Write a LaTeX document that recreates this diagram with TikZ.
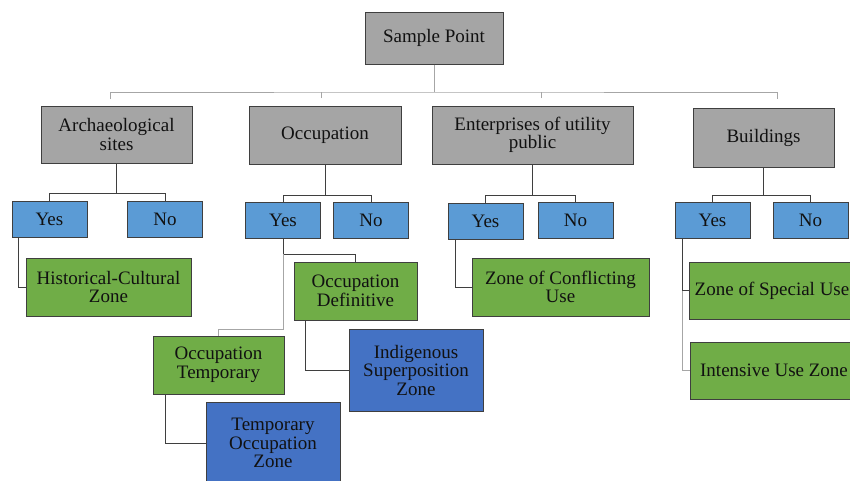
\documentclass[tikz,border=0pt]{standalone}
\usepackage{fontspec}
\setmainfont{Liberation Serif}
\usetikzlibrary{calc}
\definecolor{bd}{HTML}{3F3F3F}
\definecolor{grayf}{HTML}{A5A5A5}
\definecolor{lblue}{HTML}{5B9BD5}
\definecolor{greenf}{HTML}{70AD47}
\definecolor{dblue}{HTML}{4472C4}
\definecolor{lgray}{HTML}{A6A6A6}
\definecolor{txt}{HTML}{111111}
\tikzset{
  box/.style={draw=bd, line width=1pt, inner sep=0pt, align=center, text=txt,
    font=\fontsize{19}{18.5}\selectfont},
  graybox/.style={box, fill=grayf},
  yesno/.style={box, fill=lblue, minimum width=75, minimum height=36},
  greenbox/.style={box, fill=greenf},
  bluebox/.style={box, fill=dblue},
  conn/.style={draw=bd, line width=1pt},
  lconn/.style={draw=lgray, line width=1pt},
}
\begin{document}
\begin{tikzpicture}[x=1pt,y=-1pt]
\useasboundingbox (0,0) rectangle (850,480);
\clip (0,0) rectangle (850,480);
\fill[white] (0,0) rectangle (850,480);

% level 0
\node[graybox, minimum width=138, minimum height=52] (sp) at (434,38) {Sample Point};
% level 1
\node[graybox, minimum width=151, minimum height=57] (arch) at (116.5,134.5) {Archaeological\\sites};
\node[graybox, minimum width=152, minimum height=58] (occ) at (325,135) {Occupation};
\node[graybox, minimum width=201, minimum height=58] (ent) at (532.5,135) {Enterprises of utility\\public};
\node[graybox, minimum width=141, minimum height=59] (bld) at (763.5,137.5) {Buildings};
% yes / no
\node[yesno] (ay) at (49.5,219) {Yes};
\node[yesno] (an) at (165,219) {No};
\node[yesno] (oy) at (283,220) {Yes};
\node[yesno] (on) at (371,220) {No};
\node[yesno] (ey) at (485.5,221) {Yes};
\node[yesno] (en) at (575.5,220.5) {No};
\node[yesno] (by) at (712.5,220) {Yes};
\node[yesno] (bn) at (810.5,220) {No};
% level 3
\node[greenbox, minimum width=165, minimum height=58] (hc) at (108.5,287) {Historical-Cultural\\Zone};
\node[greenbox, minimum width=123, minimum height=58] (od) at (355.5,291) {Occupation\\Definitive};
\node[greenbox, minimum width=131, minimum height=58] (ot) at (218.5,365) {Occupation\\Temporary};
\node[bluebox, minimum width=134, minimum height=82] (isz) at (416,370) {Indigenous\\Superposition\\Zone};
\node[bluebox, minimum width=134, minimum height=82] (toz) at (273,443) {Temporary\\Occupation\\Zone};
\node[greenbox, minimum width=177, minimum height=58] (zcu) at (560.5,287) {Zone of Conflicting\\Use};
\node[greenbox, minimum width=166, minimum height=57] (zsu) at (772,290.5) {Zone of Special Use};
\node[greenbox, minimum width=168, minimum height=57] (iuz) at (774,370.5) {Intensive Use Zone};

% top bus
\coordinate (bus) at (434,92);
\coordinate (d1) at (110,99);
\coordinate (d2) at (321,98);
\coordinate (d3) at (541,98);
\coordinate (d4) at (777,99);
\draw[lconn] (sp.south) -- (bus);
\draw[lconn] (d1) |- (bus) -| (d4);
\draw[lconn] (d2) -- (d2 |- bus);
\draw[lconn] (d3) -- (d3 |- bus);

% level 1 -> yes/no
\draw[conn] (arch.south) -- ++(0,30) coordinate (m1);
\draw[conn] (ay.north) |- (m1) -| (an.north);
\draw[conn] (occ.south) -- ++(0,31) coordinate (m2);
\draw[conn] (oy.north) |- (m2) -| (on.north);
\draw[conn] (ent.south) -- ++(0,31) coordinate (m3);
\draw[conn] (ey.north) |- (m3) -| (en.north);
\draw[conn] (bld.south) -- ++(0,28) coordinate (m4);
\draw[conn] (by.north) |- (m4) -| (bn.north);

% yes -> results
\draw[conn] ([xshift=7pt]ay.south west) |- (hc.west);
\draw[conn] ([xshift=8pt]ey.south west) |- (zcu.west);
\draw[conn] ([xshift=8pt]by.south west) |- (zsu.west);
\draw[lconn] ([xshift=8pt]by.south west |- zsu.west) |- (iuz.west);
\coordinate (j1) at (283,254);
\coordinate (j2) at (283,329);
\draw[conn] (oy.south) -- (j1) -| (od.north);
\draw[lconn] (j1) -- (j2) -| (ot.north);
\draw[conn] ([xshift=12pt]od.south west) |- (isz.west);
\draw[conn] ([xshift=13pt]ot.south west) |- (toz.west);
\end{tikzpicture}
\end{document}
